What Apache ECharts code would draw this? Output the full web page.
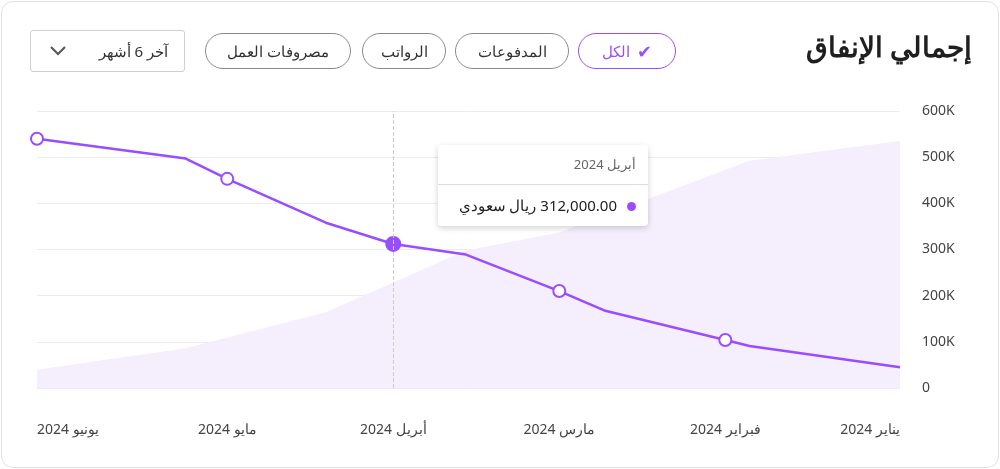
<!DOCTYPE html>
<html lang="ar">
<head>
<meta charset="UTF-8">
<script src="https://cdn.jsdelivr.net/npm/echarts@6/dist/echarts.min.js"></script>
<style>
  body { margin: 0; background: #fff; font-family: "Noto Sans", sans-serif; }
  .card { position: absolute; left: 1px; top: 1px; width: 996px; height: 465px; border: 1px solid #e2e2e2; border-radius: 12px; }
  #chart { position: absolute; left: 0; top: 0; width: 1000px; height: 469px; }
  .title { position: absolute; right: 28px; top: 27px; font-size: 28px; font-weight: bold; color: #1f1f1f; }
  .pill { position: absolute; top: 33px; height: 36px; box-sizing: border-box; border: 1px solid #8a8a8a; border-radius: 18px;
          font-size: 15px; color: #333; display: flex; align-items: center; justify-content: center; }
  .pill.on { border-color: #9a4dff; color: #9a4dff; }
  .drop { position: absolute; left: 30px; top: 30px; width: 155px; height: 42px; box-sizing: border-box; border: 1px solid #cfcfcf;
          border-radius: 3px; font-size: 15px; color: #333; }
</style>
</head>
<body>
<div class="card"></div>
<div id="chart"></div>
<div class="title">إجمالي الإنفاق</div>
<div class="pill on" style="left:578px;width:98px;">الكل&nbsp;&nbsp;<span style="font-size:18px">✔</span></div>
<div class="pill" style="left:455px;width:114px;">المدفوعات</div>
<div class="pill" style="left:362px;width:84px;">الرواتب</div>
<div class="pill" style="left:205px;width:146px;">مصروفات العمل</div>
<div class="drop"><span style="position:absolute;right:16px;top:10px">آخر 6 أشهر</span>
  <svg style="position:absolute;left:18px;top:14px" width="18" height="12"><polyline points="2,2 9,9 16,2" fill="none" stroke="#555" stroke-width="2"/></svg></div>
<script>
const monthLabels = ['يناير 2024', 'فبراير 2024', 'مارس 2024', 'أبريل 2024', 'مايو 2024', 'يونيو 2024'];
const monthPos = [0, 1.01, 1.97, 2.93, 3.89, 4.99];
const markerPos = [1.01, 1.97, 2.93, 3.89, 4.99];
const lineX = [0, 0.87, 1.01, 1.71, 1.97, 2.51, 2.93, 3.32, 3.89, 4.13, 4.99];
const lineY = [45000, 91000, 104000, 168000, 210000, 289000, 312000, 358000, 453000, 497000, 540000];
const areaX = [0, 0.87, 1.97, 2.51, 3.32, 4.13, 5];
const areaY = [535000, 492000, 337000, 298000, 164000, 86000, 39000];
const purple = '#9a4dff';

const lineData = lineX.map((x, i) => {
  const d = { value: [x, lineY[i]], symbolSize: markerPos.includes(x) ? 12 : 0 };
  if (x === 2.93) { d.itemStyle = { color: purple }; d.symbolSize = 14; }
  return d;
});

const chart = echarts.init(document.getElementById('chart'));
chart.setOption({
  textStyle: { fontFamily: 'Noto Sans' },
  grid: { left: 37, right: 100, top: 111, bottom: 81 },
  xAxis: {
    type: 'value', inverse: true, min: 0, max: 4.99,
    axisLine: { show: false }, axisTick: { show: false }, splitLine: { show: false },
    axisLabel: {
      customValues: monthPos, color: '#444', fontSize: 14, margin: 35,
      alignMinLabel: 'right', alignMaxLabel: 'left',
      formatter: v => monthLabels[monthPos.indexOf(v)] || ''
    }
  },
  yAxis: {
    type: 'value', position: 'right', min: 0, max: 600000, interval: 100000,
    axisLine: { show: false }, axisTick: { show: false },
    splitLine: { lineStyle: { color: '#ececec' } },
    axisLabel: { color: '#444', fontSize: 14, margin: 22, align: 'left',
      formatter: v => v === 0 ? '0' : (v / 1000) + 'K' }
  },
  tooltip: {
    trigger: 'item', alwaysShowContent: true, position: [438, 145],
    padding: 0, borderWidth: 0, backgroundColor: '#fff',
    extraCssText: 'box-shadow:0 2px 6px rgba(0,0,0,0.18);border-radius:4px;',
    formatter: p => '<div dir="rtl" style="width:210px;font-family:Noto Sans">' +
      '<div style="padding:9px 12px;color:#666;font-size:13px;border-bottom:1px solid #ddd">أبريل 2024</div>' +
      '<div style="padding:10px 12px;font-size:15px;color:#222"><span style="display:inline-block;width:9px;height:9px;border-radius:5px;background:' + purple + ';margin-left:10px"></span>' +
      p.value[1].toLocaleString('en-US', { minimumFractionDigits: 2 }) + ' ريال سعودي</div></div>'
  },
  series: [
    {
      type: 'line', data: areaX.map((x, i) => [x, areaY[i]]), symbol: 'none', silent: true,
      lineStyle: { width: 0 }, areaStyle: { color: '#f4eefd', opacity: 1 }, z: 1
    },
    {
      type: 'line', data: lineData, symbol: 'circle', showAllSymbol: true,
      lineStyle: { color: purple, width: 2.5 },
      itemStyle: { color: '#fff', borderColor: purple, borderWidth: 2 },
      markLine: { symbol: 'none', silent: true, label: { show: false },
        lineStyle: { color: '#ccc', type: 'dashed', width: 1 }, data: [{ xAxis: 2.93 }] },
      z: 3
    }
  ]
});
chart.dispatchAction({ type: 'showTip', seriesIndex: 1, dataIndex: 6 });
</script>
</body>
</html>
